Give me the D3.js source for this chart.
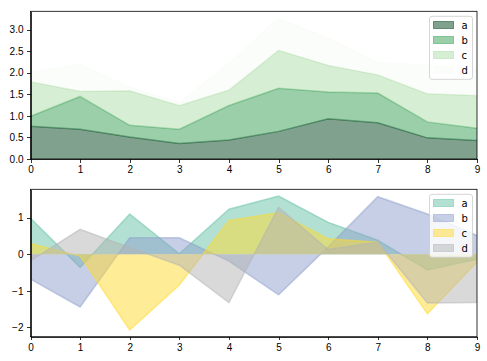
<!DOCTYPE html>
<html>
<head>
<meta charset="UTF-8" />
<style>
	body { margin: 0; background: #ffffff; }
	svg { font-family: 'DejaVu Sans', sans-serif; font-size: 10px; }
	.axis path, .axis line { stroke: #000000; stroke-width: 0.8px; shape-rendering: crispEdges; }
	.axis text { fill: #000000; font-size: 10px; }
</style>
</head>
<body>
<script src="https://d3js.org/d3.v7.min.js"></script>
<script>
'use strict';
const index = [0, 1, 2, 3, 4, 5, 6, 7, 8, 9];
const names = ['a', 'b', 'c', 'd'];

// top chart: stacked areas
const topA = [0.76, 0.69, 0.51, 0.36, 0.44, 0.64, 0.93, 0.84, 0.49, 0.43];
const topB = [0.23, 0.76, 0.27, 0.33, 0.80, 1.00, 0.62, 0.69, 0.37, 0.28];
const topC = [0.80, 0.12, 0.80, 0.55, 0.36, 0.88, 0.62, 0.42, 0.65, 0.76];
const topD = [0.21, 0.62, 0.09, 0.06, 0.62, 0.74, 0.63, 0.28, 0.66, 0.63];
const topColors = ['#00441b', '#37a055', '#aedea7', '#f7fcf5'];
const topTicks = [0, 0.5, 1, 1.5, 2, 2.5, 3];

// bottom chart: unstacked areas
const botA = [0.98, -0.36, 1.10, 0.01, 1.23, 1.59, 0.87, 0.38, -0.43, -0.14];
const botB = [-0.68, -1.44, 0.45, 0.45, -0.19, -1.11, 0.20, 1.57, 1.10, 0.51];
const botC = [0.29, -0.05, -2.07, -0.84, 0.92, 1.13, 0.42, 0.33, -1.63, -0.21];
const botD = [-0.18, 0.68, 0.18, -0.30, -1.32, 1.28, 0.13, 0.33, -1.33, -1.32];
const botColors = ['#66c2a5', '#8da0cb', '#ffd92f', '#b3b3b3'];
const botTicks = [-2, -1, 0, 1];

const W = 487, H = 361;
const left = 30.5, right = 477;

const svg = d3.select('body').append('svg')
	.attr('width', W)
	.attr('height', H);

const x = d3.scaleLinear().domain([0, 9]).range([left, right]);

function drawPanel(top, bottom, series, colors, ticks, stacked, fmt) {
	let lows, highs;
	if (stacked) {
		lows = []; highs = [];
		let acc = index.map(() => 0);
		series.forEach(s => {
			lows.push(acc.slice());
			acc = acc.map((v, i) => v + s[i]);
			highs.push(acc.slice());
		});
	} else {
		lows = series.map(() => index.map(() => 0));
		highs = series;
	}
	const all = highs.flat().concat(lows.flat());
	let lo = d3.min(all), hi = d3.max(all);
	const pad = (hi - lo) * 0.05;
	const y = d3.scaleLinear()
		.domain([stacked ? 0 : lo - pad, hi + pad])
		.range([bottom, top]);

	const g = svg.append('g');
	const area = d3.area()
		.x((d, i) => x(index[i]))
		.y0(d => y(d[0]))
		.y1(d => y(d[1]));
	const line = d3.line()
		.x((d, i) => x(index[i]))
		.y(d => y(d));

	series.forEach((s, k) => {
		const pts = index.map((_, i) => [lows[k][i], highs[k][i]]);
		g.append('path')
			.attr('d', area(pts))
			.attr('fill', colors[k])
			.attr('fill-opacity', 0.5);
		g.append('path')
			.attr('d', line(highs[k]))
			.attr('fill', 'none')
			.attr('stroke', colors[k])
			.attr('stroke-opacity', 0.5)
			.attr('stroke-width', 1.5);
	});

	// axes
	svg.append('g')
		.attr('class', 'axis')
		.attr('transform', 'translate(0,' + bottom + ')')
		.call(d3.axisBottom(x).tickValues(index).tickSize(3.5).tickPadding(3.5).tickSizeOuter(0));
	svg.append('g')
		.attr('class', 'axis')
		.attr('transform', 'translate(' + left + ',0)')
		.call(d3.axisLeft(y).tickValues(ticks).tickFormat(fmt).tickSize(3.5).tickPadding(3.5).tickSizeOuter(0));
	svg.append('rect')
		.attr('x', left).attr('y', top)
		.attr('width', right - left).attr('height', bottom - top)
		.attr('fill', 'none')
		.attr('stroke', '#000000')
		.attr('stroke-width', 0.8);

	// legend
	const lx = 429.5, ly = top + 5;
	const lg = svg.append('g');
	lg.append('rect')
		.attr('x', lx).attr('y', ly)
		.attr('width', 43).attr('height', 63)
		.attr('rx', 2.5)
		.attr('fill', '#ffffff').attr('fill-opacity', 0.8)
		.attr('stroke', '#cccccc').attr('stroke-width', 0.8);
	names.forEach((n, k) => {
		const cy = ly + 8.7 + k * 15;
		lg.append('rect')
			.attr('x', lx + 4).attr('y', cy - 3.5)
			.attr('width', 20).attr('height', 7)
			.attr('fill', colors[k]).attr('fill-opacity', 0.5)
			.attr('stroke', colors[k]).attr('stroke-opacity', 0.5);
		lg.append('text')
			.attr('x', lx + 32).attr('y', cy)
			.attr('dy', '0.35em')
			.attr('fill', '#000000')
			.text(n);
	});
}

drawPanel(11.3, 159, [topA, topB, topC, topD], topColors, topTicks, true, d3.format('.1f'));
drawPanel(189.3, 336.7, [botA, botB, botC, botD], botColors, botTicks, false, d => d3.format('d')(d).replace('-', '\u2212'));
</script>
</body>
</html>
